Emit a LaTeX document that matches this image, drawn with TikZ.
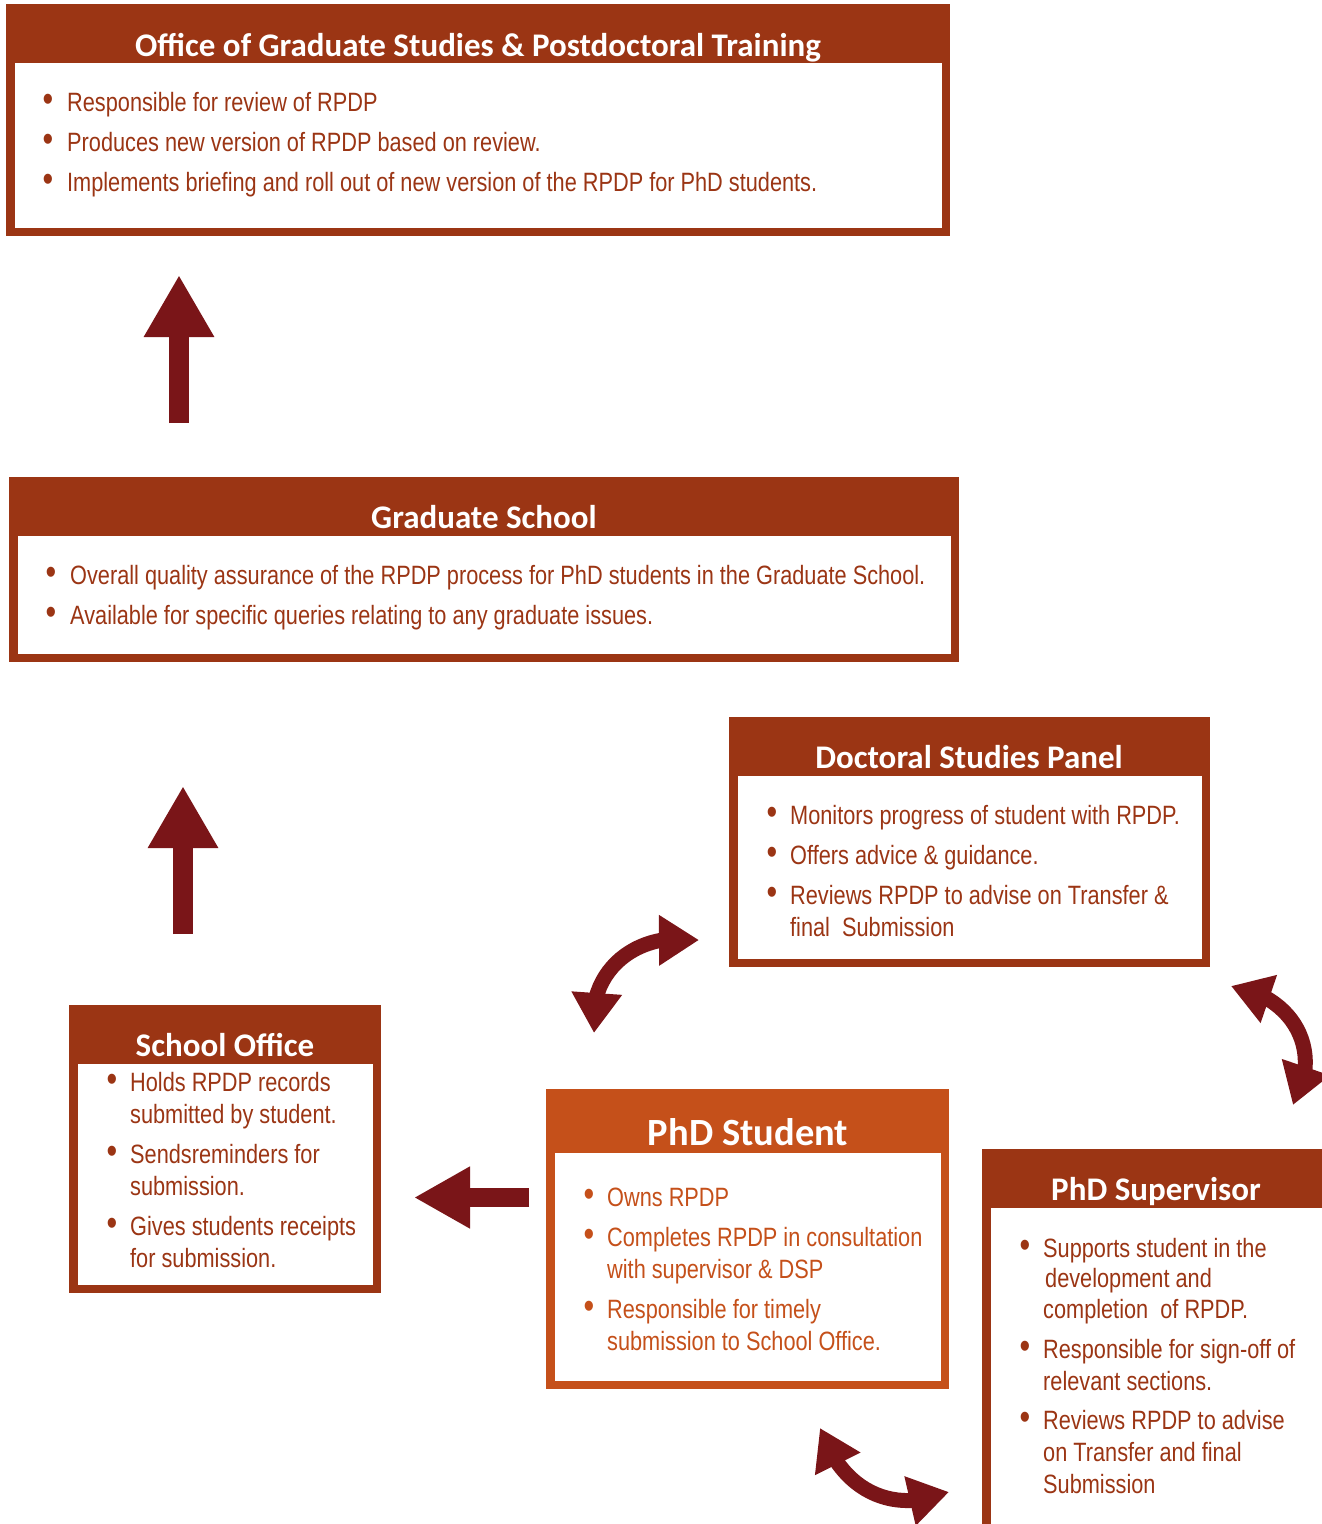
\documentclass[tikz,border=0pt]{standalone}
\usepackage{fontspec}
\newfontfamily\ttlfont{Carlito}
\newfontfamily\bdfont{Liberation Sans}[FakeStretch=0.82]
\usetikzlibrary{arrows.meta,bending}
\definecolor{frame}{HTML}{9B3514}
\definecolor{stud}{HTML}{C5501A}
\definecolor{arr}{HTML}{7A1518}
\definecolor{txt}{HTML}{9B3514}
\begin{document}
\begin{tikzpicture}[x=1pt,y=-1pt,
  ttl/.style={font=\ttlfont\bfseries\fontsize{33}{36}\selectfont, text=white, anchor=base, inner sep=0pt},
  bul/.style={font=\bdfont\fontsize{37}{40}\selectfont, text=txt, anchor=base, inner sep=0pt},
  ln/.style={font=\bdfont\fontsize{26.5}{30}\selectfont, text=txt, anchor=base west, inner sep=0pt},
  blk/.style={arr, line width=20pt, -{Triangle[length=62pt,width=66pt]}},
  crv/.style={arr, line width=15pt, {Triangle[length=40pt,width=48pt]}-{Triangle[length=40pt,width=48pt]}},
]
\useasboundingbox (0,0) rectangle (1322,1524);
\clip (0,0) rectangle (1322,1524);
\fill[white] (0,0) rectangle (1322,1524);

% ---------- Office of Graduate Studies ----------
\fill[frame] (6,4) rectangle (950,236);
\fill[white] (15,63) rectangle (942,228);
\node[ttl] (ogsT) at (478,56) {Office of Graduate Studies \& Postdoctoral Training};
\node[bul] (ogsb1) at (48,111.5) {•};
\node[ln]  (ogs1) at (67,111.5) {Responsible for review of RPDP};
\node[bul] (ogsb2) at (48,151.5) {•};
\node[ln]  (ogs2) at (67,151.5) {Produces new version of RPDP based on review.};
\node[bul] (ogsb3) at (48,191.5) {•};
\node[ln]  (ogs3) at (67,191.5) {Implements briefing and roll out of new version of the RPDP for PhD students.};

% ---------- Graduate School ----------
\fill[frame] (9,477) rectangle (959,662);
\fill[white] (18,536) rectangle (951,654);
\node[ttl] (gsT) at (484,528.5) {Graduate School};
\node[bul] (gsb1) at (51,584.5) {•};
\node[ln]  (gs1) at (70,584.5) {Overall quality assurance of the RPDP process for PhD students in the Graduate School.};
\node[bul] (gsb2) at (51,624.5) {•};
\node[ln]  (gs2) at (70,624.5) {Available for specific queries relating to any graduate issues.};

% ---------- Doctoral Studies Panel ----------
\fill[frame] (729,717) rectangle (1210,967);
\fill[white] (738,776) rectangle (1202,959);
\node[ttl] (dspT) at (969,768.5) {Doctoral Studies Panel};
\node[bul] (dspb1) at (772,824.5) {•};
\node[ln]  (dsp1) at (790,824.5) {Monitors progress of student with RPDP.};
\node[bul] (dspb2) at (772,864.5) {•};
\node[ln]  (dsp2) at (790,864.5) {Offers advice \& guidance.};
\node[bul] (dspb3) at (772,904.5) {•};
\node[ln]  (dsp3) at (790,904.5) {Reviews RPDP to advise on Transfer \&};
\node[ln]  (dsp3b) at (790,936.5) {final\ \ Submission};

% ---------- School Office ----------
\fill[frame] (69,1005) rectangle (381,1293);
\fill[white] (78,1064) rectangle (373,1285);
\node[ttl] (soT) at (225,1056.5) {School Office};
\node[bul] (sob1) at (112,1091.5) {•};
\node[ln]  (so1) at (130,1091.5) {Holds RPDP records};
\node[ln]  (so1b) at (130,1123.5) {submitted by student.};
\node[bul] (sob2) at (112,1163.5) {•};
\node[ln]  (so2) at (130,1163.5) {Sendsreminders for};
\node[ln]  (so2b) at (130,1195.5) {submission.};
\node[bul] (sob3) at (112,1235.5) {•};
\node[ln]  (so3) at (130,1235.5) {Gives students receipts};
\node[ln]  (so3b) at (130,1267.5) {for submission.};

% ---------- PhD Student ----------
\fill[stud] (546,1089) rectangle (949,1389);
\fill[white] (555,1153) rectangle (941,1381);
\node[ttl, font=\ttlfont\bfseries\fontsize{38.5}{42}\selectfont] (stT) at (748,1145) {PhD Student};
\node[bul, text=stud] (stb1) at (589,1206.5) {•};
\node[ln, text=stud]  (st1) at (607,1206.5) {Owns RPDP};
\node[bul, text=stud] (stb2) at (589,1246.5) {•};
\node[ln, text=stud]  (st2) at (607,1246.5) {Completes RPDP in consultation};
\node[ln, text=stud]  (st2b) at (607,1278.5) {with supervisor \& DSP};
\node[bul, text=stud] (stb3) at (589,1318.5) {•};
\node[ln, text=stud]  (st3) at (607,1318.5) {Responsible for timely};
\node[ln, text=stud]  (st3b) at (607,1350.5) {submission to School Office.};

% ---------- PhD Supervisor ----------
\fill[frame] (982,1149) rectangle (1340,1540);
\fill[white] (991,1208) rectangle (1340,1540);
\node[ttl] (supT) at (1156,1200.5) {PhD Supervisor};
\node[bul] (supb1) at (1025,1257.5) {•};
\node[ln]  (sup1) at (1043,1257.5) {Supports student in the};
\node[ln]  (sup1b) at (1045,1287.5) {development and};
\node[ln]  (sup1c) at (1043,1318.5) {completion\ \ of RPDP.};
\node[bul] (supb2) at (1025,1358.5) {•};
\node[ln]  (sup2) at (1043,1358.5) {Responsible for sign-off of};
\node[ln]  (sup2b) at (1043,1390.5) {relevant sections.};
\node[bul] (supb3) at (1025,1429.5) {•};
\node[ln]  (sup3) at (1043,1429.5) {Reviews RPDP to advise};
\node[ln]  (sup3b) at (1043,1461.5) {on Transfer and final};
\node[ln]  (sup3c) at (1043,1493.5) {Submission};

% ---------- straight arrows ----------
\coordinate (a1s) at (179,423);
\coordinate (a1e) at (179,275);
\draw[blk] (a1s) -- (a1e);
\coordinate (a2s) at (183,934);
\coordinate (a2e) at (183,786);
\draw[blk] (a2s) -- (a2e);
\coordinate (a3s) at (529,1197.5);
\coordinate (a3e) at (414,1197.5);
\draw[arr, line width=19pt, -{Triangle[length=56pt,width=58pt]}] (a3s) -- (a3e);

% ---------- curved double arrows ----------
\coordinate (c1a) at (594,1033);
\coordinate (c1b) at (699,940);
\draw[crv] (c1a) .. controls (586,972) and (635,930) .. (c1b);
\coordinate (c2a) at (1231,986);
\coordinate (c2b) at (1293,1105);
\draw[crv] (c2a) .. controls (1294,996) and (1324,1052) .. (c2b);
\coordinate (c3a) at (820,1428);
\coordinate (c3b) at (949,1492);
\draw[crv] (c3a) .. controls (843,1494) and (895,1514) .. (c3b);
\end{tikzpicture}
\end{document}
